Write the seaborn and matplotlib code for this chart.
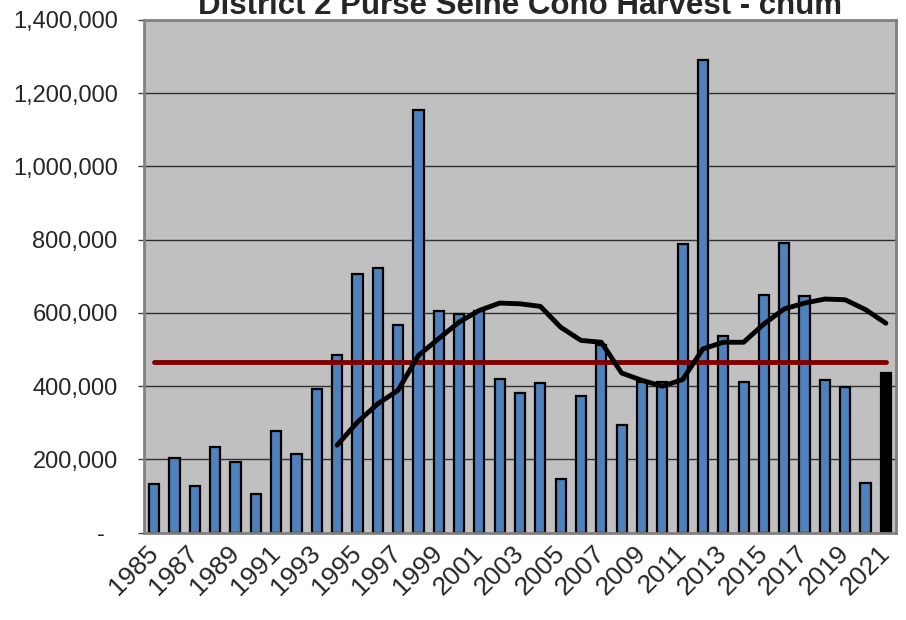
import matplotlib
matplotlib.use('Agg')
import matplotlib.pyplot as plt
import matplotlib.ticker as mticker
import pandas as pd
import seaborn as sns

#%% DATA
years = list(range(1985, 2022))
harvest = [133000, 204000, 128000, 234000, 192000, 105000, 277000, 214000,
           392000, 484000, 707000, 722000, 568000, 1154000, 604000, 598000,
           605000, 419000, 382000, 409000, 146000, 373000, 512000, 295000,
           411000, 411000, 789000, 1292000, 538000, 411000, 649000, 792000,
           645000, 417000, 398000, 136000, 436000]

ma_years = list(range(1994, 2022))
moving_avg = [239000, 302000, 352000, 389000, 484000, 530000, 575000, 607000,
              627000, 625000, 618000, 561000, 525000, 520000, 436000, 416000,
              400000, 418000, 502000, 520000, 520000, 570000, 611000, 627000,
              638000, 636000, 609000, 572000]

long_term_avg = 465000

title = 'District 2 Purse Seine Coho Harvest - chum'

#%% CONFIGS
sns.set_style('white')
plt.rcParams['font.family'] = ['Liberation Sans', 'DejaVu Sans']
plt.rcParams['font.size'] = 17

df = pd.DataFrame({'Year': [str(y) for y in years], 'Harvest': harvest})
bar_colors = ['#4F81BD'] * (len(years) - 1) + ['#000000']
pos = {y: i for i, y in enumerate(years)}

#%% PLOT
fig = plt.figure(figsize=(9.06, 6.2), dpi=100)
ax = fig.add_axes([0.159, 0.1408, 0.830, 0.827])
ax.set_facecolor('#C0C0C0')

sns.barplot(data=df, x='Year', y='Harvest', hue='Year', palette=bar_colors,
            legend=False, width=0.5, saturation=1, edgecolor='black',
            linewidth=1.6, ax=ax, zorder=2)

sns.lineplot(x=[pos[y] for y in years], y=[long_term_avg] * len(years),
             color='#800000', linewidth=3.5, ax=ax, zorder=3)
sns.lineplot(x=[pos[y] for y in ma_years], y=moving_avg,
             color='black', linewidth=3.5, ax=ax, zorder=4)

ax.set_xlim(-0.5, len(years) - 0.5)
ax.set_ylim(0, 1400000)
ax.yaxis.set_major_locator(mticker.MultipleLocator(200000))
ax.yaxis.set_major_formatter(mticker.FuncFormatter(
    lambda v, p: '-  ' if v == 0 else f'{v:,.0f}'))
ax.yaxis.grid(True, color='#303030', linewidth=1)
ax.set_axisbelow(True)

ax.set_xticks([pos[y] for y in years[::2]])
ax.set_xticklabels([str(y) for y in years[::2]], rotation=45, ha='right',
                   va='center', rotation_mode='anchor')
ax.set_xticks([i - 0.5 for i in range(len(years) + 1)], minor=True)
ax.tick_params(axis='x', which='major', length=0, pad=12, labelsize=19)
ax.tick_params(axis='x', which='minor', length=4.5, width=1, color='#404040',
               direction='out')
ax.tick_params(axis='y', length=4, width=1, color='#404040', direction='out',
               pad=15, labelsize=17, left=True)

ax.set_xlabel('')
ax.set_ylabel('')
for side in ['left', 'right', 'top', 'bottom']:
    ax.spines[side].set_visible(True)
    ax.spines[side].set_color('#808080')
    ax.spines[side].set_linewidth(2)

fig.text(0.574, 1 - 14 / 620, title, ha='center', va='baseline',
         fontsize=22.5, fontweight='bold')

fig.savefig('out.png', dpi=100, facecolor='white')
